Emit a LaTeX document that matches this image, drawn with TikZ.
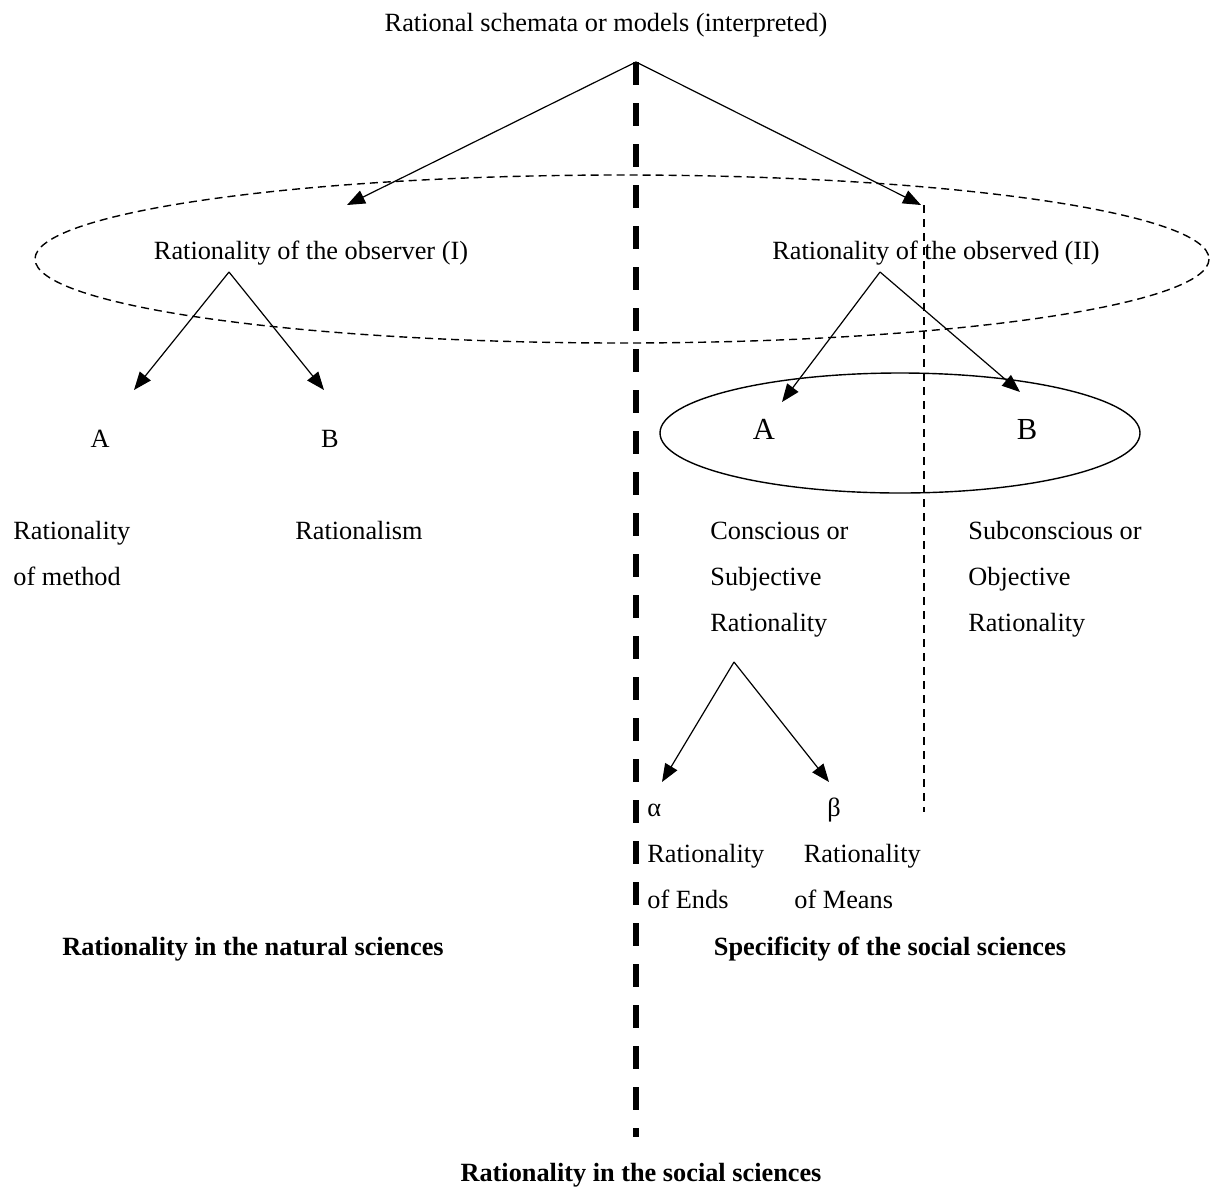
\documentclass[tikz,border=0pt]{standalone}
\usepackage{fontspec}
\setmainfont{Liberation Serif}
\usetikzlibrary{arrows.meta}

\begin{document}
\begin{tikzpicture}[x=0.5pt,y=-0.5pt,
    arr/.style={line width=0.6pt,-{Triangle[length=9pt,width=7pt]}},
    lbl/.style={font=\fontsize{13.15}{23}\selectfont, inner sep=0pt, anchor=base},
    big/.style={font=\fontsize{15.3}{18}\selectfont, inner sep=0pt, anchor=base},
    col/.style={lbl, anchor=base west, align=left},
    head/.style={lbl, font=\fontsize{13.15}{16}\selectfont\bfseries}]
      \useasboundingbox (0,0) rectangle (1213,1189);

      % top of the schema
      \node (R) at (606,31) [lbl] {Rational schemata or models (interpreted)};
      \coordinate (Rt) at (636,62);
      \coordinate (I) at (347,205);
      \coordinate (II) at (921,205);

      % the two rationalities
      \draw[line width=0.7pt, dash pattern=on 4pt off 2.5pt] (622,259) ellipse [x radius=587, y radius=84];
      \node (Io) at (311,259) [lbl] {Rationality of the observer (I)};
      \node (IIo) at (936,259) [lbl] {Rationality of the observed (II)};
      \coordinate (It) at (229,272);
      \coordinate (IIt) at (880,272);

      % left branch (base of a column is its last line)
      \coordinate (IA) at (134,390);
      \coordinate (IB) at (324,390);
      \node (Al) at (100,447) [lbl] {A};
      \node (Bl) at (330,447) [lbl] {B};
      \node (Am) at (13,585) [col] {Rationality\\of method};
      \node (Bm) at (295,539) [col] {Rationalism};

      % right branch
      \draw[line width=0.7pt] (900,433) ellipse [x radius=240, y radius=60];
      \coordinate (IIA) at (782,402);
      \coordinate (IIB) at (1020,392);
      \node (Ar) at (764,439) [big] {A};
      \node (Br) at (1027,439) [big] {B};
      \node (Cs) at (710,631) [col] {Conscious or\\Subjective\\Rationality};
      \node (Sc) at (968,631) [col] {Subconscious or\\Objective\\Rationality};

      % ends and means
      \coordinate (Ct) at (734,662);
      \coordinate (Ca) at (662,782);
      \coordinate (Cb) at (829,782);
      \node (al) at (647,816) [col] {α};
      \node (be) at (834,816) [lbl] {β};
      \node (En) at (647,908) [col] {Rationality\\of Ends};
      \node (Mn) at (794,908) [col] {\hspace*{4.7pt}Rationality\\of Means};

      % captions
      \node (Nat) at (253,955) [head] {Rationality in the natural sciences};
      \node (Spe) at (890,955) [head] {Specificity of the social sciences};
      \node (Soc) at (641,1181) [head] {Rationality in the social sciences};

      % dividing lines
      \coordinate (Db) at (636,1137);
      \coordinate (Vb) at (924,812);
      \coordinate (Vt) at (924,205);
      \draw[line width=2.6pt, dash pattern=on 11.5pt off 9pt] (Rt) -- (Db);
      \draw[line width=0.7pt, dash pattern=on 4pt off 3pt] (Vt) -- (Vb);

      \draw[arr] (Rt) -- (I);
      \draw[arr] (Rt) -- (II);
      \draw[arr] (It) -- (IA);
      \draw[arr] (It) -- (IB);
      \draw[arr] (IIt) -- (IIA);
      \draw[arr] (IIt) -- (IIB);
      \draw[arr] (Ct) -- (Ca);
      \draw[arr] (Ct) -- (Cb);

    \end{tikzpicture}
\end{document}
